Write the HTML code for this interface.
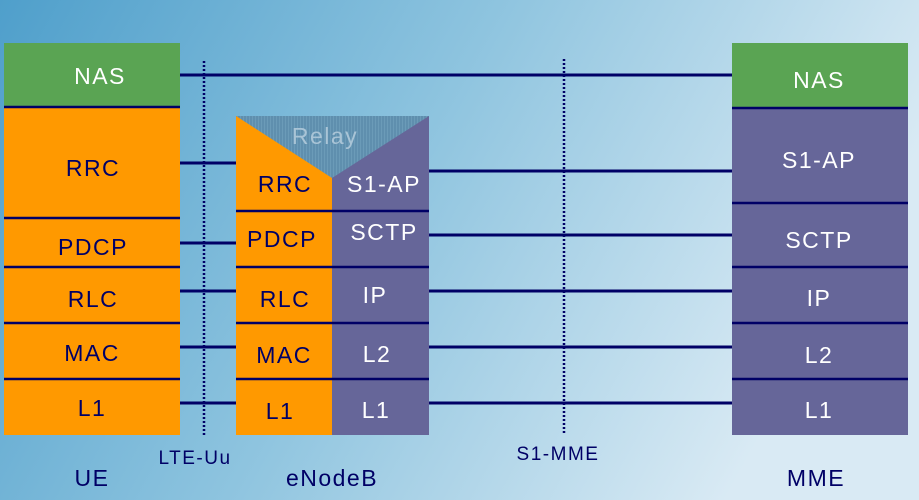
<!DOCTYPE html>
<html><head><meta charset="utf-8"><style>
html,body{margin:0;padding:0;width:919px;height:500px;overflow:hidden}
svg text{font-family:"Liberation Sans",sans-serif;letter-spacing:1.5px}
</style></head><body>
<svg width="919" height="500" xmlns="http://www.w3.org/2000/svg">
<defs>
<linearGradient id="bg" x1="0" y1="0" x2="1" y2="0.3">
<stop offset="0" stop-color="#4f9fcb"/><stop offset="0.5" stop-color="#8ec4df"/><stop offset="1" stop-color="#d9eaf4"/>
</linearGradient>
<pattern id="hatch" width="3" height="3" patternUnits="userSpaceOnUse">
<rect width="3" height="3" fill="#5f8fae"/><rect width="1" height="3" fill="#6b9bb8"/>
</pattern>
</defs>
<rect width="919" height="500" fill="url(#bg)"/>
<g stroke="#000066" stroke-width="2.5" stroke-dasharray="2,2">
<line x1="204" y1="61" x2="204" y2="435"/>
<line x1="564" y1="59" x2="564" y2="433"/>
</g>
<g stroke="#000066" stroke-width="3">
<line x1="180" y1="75" x2="732" y2="75"/>
<line x1="180" y1="163" x2="236" y2="163"/>
<line x1="180" y1="243" x2="236" y2="243"/>
<line x1="180" y1="291" x2="236" y2="291"/>
<line x1="180" y1="347" x2="236" y2="347"/>
<line x1="180" y1="403" x2="236" y2="403"/>
<line x1="429" y1="171" x2="732" y2="171"/>
<line x1="429" y1="235" x2="732" y2="235"/>
<line x1="429" y1="291" x2="732" y2="291"/>
<line x1="429" y1="347" x2="732" y2="347"/>
<line x1="429" y1="403" x2="732" y2="403"/>
</g>
<!-- UE -->
<rect x="4" y="43" width="176" height="65" fill="#5aa453"/>
<rect x="4" y="108" width="176" height="327" fill="#ff9900"/>
<g stroke="#000066" stroke-width="2.5">
<line x1="4" y1="107" x2="180" y2="107"/>
<line x1="4" y1="218" x2="180" y2="218"/>
<line x1="4" y1="267" x2="180" y2="267"/>
<line x1="4" y1="323" x2="180" y2="323"/>
<line x1="4" y1="379" x2="180" y2="379"/>
</g>
<!-- eNodeB -->
<rect x="236" y="116" width="96" height="319" fill="#ff9900"/>
<rect x="332" y="116" width="97" height="319" fill="#666699"/>
<polygon points="236,116 429,116 332,178" fill="url(#hatch)"/>
<g stroke="#000066" stroke-width="2.5">
<line x1="236" y1="211" x2="429" y2="211"/>
<line x1="236" y1="267" x2="429" y2="267"/>
<line x1="236" y1="323" x2="429" y2="323"/>
<line x1="236" y1="379" x2="429" y2="379"/>
</g>
<!-- MME -->
<rect x="732" y="43" width="176" height="65" fill="#5aa453"/>
<rect x="732" y="108" width="176" height="327" fill="#666699"/>
<g stroke="#000066" stroke-width="2.5">
<line x1="732" y1="108" x2="908" y2="108"/>
<line x1="732" y1="203" x2="908" y2="203"/>
<line x1="732" y1="267" x2="908" y2="267"/>
<line x1="732" y1="323" x2="908" y2="323"/>
<line x1="732" y1="379" x2="908" y2="379"/>
</g>
<g font-size="23" text-anchor="middle">
<text x="100" y="84" fill="#fff">NAS</text>
<text x="93" y="176" fill="#000066">RRC</text>
<text x="93" y="255" fill="#000066">PDCP</text>
<text x="93" y="307" fill="#000066">RLC</text>
<text x="92" y="361" fill="#000066">MAC</text>
<text x="92" y="416" fill="#000066">L1</text>
<text x="325" y="144" fill="#a9c4d6">Relay</text>
<text x="285" y="192" fill="#000066">RRC</text>
<text x="282" y="247" fill="#000066">PDCP</text>
<text x="285" y="307" fill="#000066">RLC</text>
<text x="284" y="363" fill="#000066">MAC</text>
<text x="280" y="419" fill="#000066">L1</text>
<text x="384" y="192" fill="#fff">S1-AP</text>
<text x="384" y="240" fill="#fff">SCTP</text>
<text x="375" y="303" fill="#fff">IP</text>
<text x="377" y="362" fill="#fff">L2</text>
<text x="376" y="418" fill="#fff">L1</text>
<text x="819" y="88" fill="#fff">NAS</text>
<text x="819" y="168" fill="#fff">S1-AP</text>
<text x="819" y="248" fill="#fff">SCTP</text>
<text x="819" y="306" fill="#fff">IP</text>
<text x="819" y="363" fill="#fff">L2</text>
<text x="819" y="418" fill="#fff">L1</text>
<text x="92" y="486" fill="#000066">UE</text>
<text x="332" y="486" fill="#000066">eNodeB</text>
<text x="816" y="486" fill="#000066">MME</text>
</g>
<g font-size="19" text-anchor="middle" fill="#000066">
<text x="195" y="464">LTE-Uu</text>
<text x="558" y="460">S1-MME</text>
</g>
</svg>
</body></html>
